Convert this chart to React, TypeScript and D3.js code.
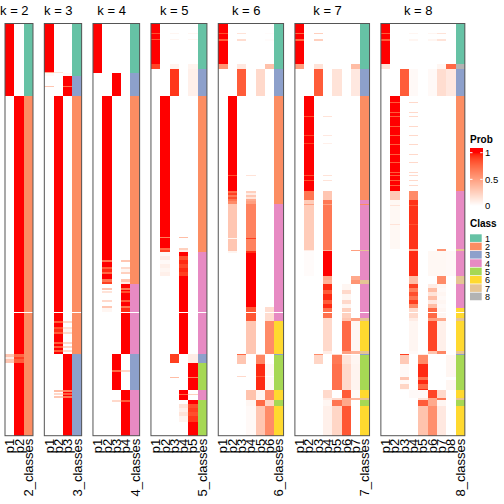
import React from "react";
import * as d3 from "d3";

const N = 412;
const KS = [2, 3, 4, 5, 6, 7, 8];
const CLASS_COLORS = ["#FFFFFF", "#66C2A5", "#FC8D62", "#8DA0CB", "#E78AC3", "#A6D854", "#FFD92F", "#E5C494", "#B3B3B3"];
const CLASS_LABELS = ["1", "2", "3", "4", "5", "6", "7", "8"];
const PROB_TICKS = [0, 0.5, 1];
const PROB_TICK_LABELS = ["0", "0.5", "1"];

// [startSample, endSample, class, p1..pk] — later rows overwrite earlier ones
const seg2 = [
  [0, 72, 1, 1, 0],
  [72, 412, 2, 0, 1],
  [330, 333, 2, 0.3, 0.75],
  [333, 335, 2, 0.1, 0.9],
  [335, 339, 2, 0.3, 0.8],
  [288, 289, 0, 0, 0],
];
const seg3 = [
  [0, 48, 1, 1, 0, 0],
  [48, 49, 1, 0.45, 0.15, 0],
  [49, 52, 1, 0.03, 0, 0.03],
  [52, 72, 3, 0, 0, 1],
  [62, 63, 3, 0.3, 0, 0.7],
  [72, 330, 2, 0, 1, 0],
  [297, 299, 2, 0, 0.8, 0.2],
  [303, 305, 2, 0, 0.85, 0.15],
  [305, 308, 2, 0, 0.95, 0.05],
  [308, 310, 2, 0, 0.8, 0.2],
  [318, 320, 2, 0, 0.8, 0.2],
  [322, 324, 2, 0, 0.8, 0.2],
  [326, 328, 2, 0, 0.8, 0.2],
  [330, 412, 3, 0, 0, 1],
  [366, 368, 3, 0, 0.35, 0.65],
  [369, 371, 3, 0, 0.2, 0.8],
  [372, 374, 3, 0, 0.3, 0.7],
  [288, 289, 0, 0, 0, 0],
];
const seg4 = [
  [0, 49, 1, 1, 0, 0, 0],
  [49, 72, 3, 0, 0, 1, 0],
  [72, 260, 2, 0, 1, 0, 0],
  [236, 238, 2, 0, 0.7, 0, 0.3],
  [243, 245, 2, 0, 0.8, 0, 0.2],
  [245, 248, 2, 0, 0.95, 0, 0.05],
  [248, 250, 2, 0, 0.75, 0, 0.25],
  [255, 258, 2, 0, 0.7, 0, 0.3],
  [258, 260, 2, 0, 0.9, 0, 0.1],
  [260, 330, 4, 0, 0, 0, 1],
  [264, 266, 4, 0, 0.3, 0, 0.7],
  [267, 269, 4, 0, 0.15, 0, 0.85],
  [276, 278, 4, 0, 0.2, 0, 0.8],
  [282, 284, 4, 0, 0.3, 0, 0.7],
  [284, 288, 4, 0, 0.05, 0, 0.95],
  [330, 366, 3, 0, 0, 1, 0],
  [346, 348, 3, 0, 0, 0.75, 0.2],
  [366, 412, 4, 0, 0, 0, 1],
  [376, 378, 4, 0, 0, 0.2, 0.8],
  [288, 289, 0, 0, 0, 0, 0],
];
const seg5 = [
  [0, 40, 1, 1, 0, 0, 0, 0],
  [9, 10, 1, 0.85, 0, 0.05, 0, 0.05],
  [15, 16, 1, 0.85, 0, 0.05, 0, 0.05],
  [40, 45, 1, 0.88, 0, 0.06, 0, 0.06],
  [45, 72, 3, 0, 0, 0.92, 0, 0.08],
  [72, 228, 2, 0, 1, 0, 0, 0],
  [213, 214, 2, 0, 0.65, 0, 0.35, 0],
  [224, 226, 2, 0, 0.75, 0, 0.25, 0],
  [226, 228, 2, 0, 0.9, 0, 0.1, 0],
  [228, 232, 4, 0, 0.04, 0, 1, 0],
  [232, 236, 4, 0, 0.1, 0, 0.85, 0],
  [236, 240, 4, 0, 0.03, 0, 0.95, 0],
  [240, 244, 4, 0, 0.08, 0, 0.88, 0],
  [244, 248, 4, 0, 0.05, 0, 0.95, 0],
  [248, 252, 4, 0, 0.08, 0, 0.9, 0],
  [252, 330, 4, 0, 0, 0, 1, 0],
  [330, 339, 3, 0, 0, 0.9, 0, 0.1],
  [339, 366, 5, 0, 0, 0, 0, 1],
  [353, 354, 5, 0, 0, 0.35, 0, 0.65],
  [366, 376, 4, 0, 0, 0, 1, 0],
  [370, 371, 4, 0, 0, 0, 0.75, 0.25],
  [376, 412, 5, 0, 0, 0, 0, 1],
  [380, 384, 5, 0, 0, 0, 0.15, 0.85],
  [384, 388, 5, 0, 0, 0, 0.08, 0.9],
  [388, 392, 5, 0, 0, 0, 0.15, 0.85],
  [392, 398, 5, 0, 0, 0, 0.06, 0.92],
  [288, 289, 0, 0, 0, 0, 0, 0],
];
const seg6 = [
  [0, 40, 1, 1, 0, 0, 0, 0, 0],
  [9, 10, 1, 0.85, 0, 0.15, 0, 0, 0.02],
  [15, 17, 1, 0.8, 0, 0.18, 0, 0, 0.02],
  [40, 45, 1, 0.55, 0, 0.12, 0, 0, 0.33],
  [45, 72, 3, 0, 0, 0.8, 0, 0.2, 0],
  [72, 167, 2, 0, 1, 0, 0, 0, 0],
  [151, 152, 2, 0, 0.85, 0, 0.15, 0, 0],
  [167, 169, 2, 0, 0.75, 0, 0.25, 0, 0],
  [169, 171, 2, 0, 0.9, 0, 0.1, 0, 0],
  [171, 173, 2, 0, 0.7, 0, 0.3, 0, 0],
  [173, 175, 2, 0, 0.85, 0, 0.15, 0, 0],
  [175, 177, 2, 0, 0.7, 0, 0.45, 0, 0],
  [177, 180, 2, 0, 0.6, 0, 0.5, 0, 0],
  [180, 227, 4, 0, 0.3, 0, 0.64, 0, 0],
  [214, 215, 4, 0, 0.05, 0, 0.9, 0, 0],
  [227, 229, 4, 0, 0.06, 0, 0.94, 0, 0],
  [229, 283, 4, 0, 0, 0, 1, 0, 0],
  [283, 297, 4, 0, 0, 0, 0.82, 0, 0.18],
  [297, 330, 6, 0, 0, 0, 0.3, 0, 0.6],
  [330, 331, 3, 0, 0, 0.75, 0, 0.2, 0],
  [331, 340, 5, 0, 0, 0.3, 0, 0.62, 0],
  [340, 366, 5, 0, 0, 0, 0, 0.95, 0.04],
  [352, 353, 5, 0, 0, 0.2, 0, 0.8, 0],
  [366, 376, 6, 0, 0, 0, 0.32, 0.05, 0.6],
  [376, 382, 5, 0, 0, 0, 0.05, 0.75, 0.22],
  [382, 412, 6, 0, 0, 0, 0.03, 0.3, 0.6],
  [288, 289, 0, 0, 0, 0, 0, 0, 0],
];
const seg7 = [
  [0, 40, 1, 1, 0, 0, 0, 0, 0, 0],
  [9, 10, 1, 0.75, 0, 0.25, 0, 0, 0, 0],
  [15, 17, 1, 0.75, 0, 0.25, 0, 0, 0, 0],
  [40, 45, 1, 0.5, 0, 0.15, 0, 0, 0, 0.35],
  [45, 72, 3, 0, 0, 0.8, 0, 0.15, 0, 0.12],
  [72, 167, 2, 0, 1, 0, 0, 0, 0, 0],
  [92, 93, 2, 0, 0.85, 0, 0.15, 0, 0, 0],
  [111, 112, 2, 0, 0.88, 0, 0.12, 0, 0, 0],
  [119, 120, 2, 0, 0.9, 0, 0.08, 0, 0, 0],
  [151, 152, 2, 0, 0.85, 0, 0.15, 0, 0, 0],
  [156, 157, 2, 0, 0.85, 0, 0.15, 0, 0, 0],
  [167, 176, 2, 0, 0.7, 0, 0.3, 0, 0, 0],
  [176, 226, 4, 0, 0.27, 0, 0.68, 0, 0, 0],
  [180, 181, 2, 0, 0.5, 0, 0.5, 0, 0, 0],
  [226, 227, 7, 0, 0.1, 0, 0.4, 0, 0, 0.5],
  [227, 252, 4, 0, 0.02, 0, 1, 0, 0, 0],
  [252, 256, 4, 0, 0, 0, 0.45, 0, 0, 0.45],
  [256, 260, 7, 0, 0, 0, 0.4, 0, 0, 0.55],
  [260, 266, 4, 0, 0, 0, 0.95, 0, 0.05, 0],
  [266, 270, 4, 0, 0, 0, 0.8, 0, 0.2, 0],
  [270, 276, 4, 0, 0, 0, 0.95, 0, 0.05, 0],
  [276, 280, 4, 0, 0, 0, 0.8, 0, 0.2, 0],
  [280, 284, 4, 0, 0, 0, 0.95, 0, 0.05, 0],
  [284, 294, 4, 0, 0, 0, 0.72, 0, 0.25, 0],
  [294, 297, 7, 0, 0, 0, 0.2, 0, 0.3, 0.5],
  [297, 327, 6, 0, 0, 0, 0.2, 0, 0.75, 0.05],
  [327, 330, 7, 0, 0, 0, 0.1, 0, 0.5, 0.4],
  [330, 331, 3, 0, 0, 0.6, 0, 0.2, 0, 0],
  [331, 340, 5, 0, 0, 0.22, 0, 0.68, 0.15, 0.05],
  [340, 366, 5, 0, 0, 0, 0, 0.72, 0.2, 0.06],
  [366, 374, 6, 0, 0, 0, 0.2, 0, 0.8, 0.03],
  [374, 376, 7, 0, 0, 0, 0.1, 0.2, 0.45, 0.4],
  [376, 382, 5, 0, 0, 0, 0.05, 0.7, 0.45, 0],
  [382, 412, 6, 0, 0, 0, 0.08, 0.22, 0.82, 0],
  [288, 289, 0, 0, 0, 0, 0, 0, 0, 0],
];
const seg8 = [
  [0, 40, 1, 1, 0, 0, 0, 0, 0, 0, 0],
  [9, 10, 1, 0.8, 0, 0, 0.05, 0, 0.05, 0.15, 0],
  [15, 17, 1, 0.8, 0, 0, 0.05, 0, 0.05, 0.15, 0],
  [40, 45, 8, 0.15, 0, 0, 0, 0, 0, 0.05, 0.75],
  [45, 72, 3, 0, 0, 0.8, 0.03, 0, 0.03, 0.18, 0.12],
  [72, 167, 2, 0, 1, 0, 0, 0, 0, 0, 0],
  [78, 79, 2, 0, 0.8, 0, 0.2, 0, 0, 0, 0],
  [88, 89, 2, 0, 0.8, 0, 0.2, 0, 0, 0, 0],
  [92, 93, 2, 0, 0.8, 0, 0.2, 0, 0, 0, 0],
  [102, 103, 2, 0, 0.8, 0, 0.2, 0, 0, 0, 0],
  [111, 112, 2, 0, 0.8, 0, 0.2, 0, 0, 0, 0],
  [120, 121, 2, 0, 0.8, 0, 0.2, 0, 0, 0, 0],
  [130, 131, 2, 0, 0.8, 0, 0.2, 0, 0, 0, 0],
  [138, 139, 2, 0, 0.8, 0, 0.2, 0, 0, 0, 0],
  [148, 149, 2, 0, 0.8, 0, 0.2, 0, 0, 0, 0],
  [151, 152, 2, 0, 0.8, 0, 0.2, 0, 0, 0, 0],
  [156, 157, 2, 0, 0.8, 0, 0.2, 0, 0, 0, 0],
  [161, 162, 2, 0, 0.8, 0, 0.2, 0, 0, 0, 0],
  [167, 176, 4, 0, 0.28, 0, 0.6, 0, 0, 0, 0],
  [176, 225, 4, 0, 0.04, 0, 0.93, 0, 0, 0, 0],
  [181, 182, 4, 0, 0.15, 0, 0.8, 0, 0, 0, 0],
  [200, 201, 4, 0, 0.15, 0, 0.85, 0, 0, 0, 0],
  [225, 227, 7, 0, 0, 0, 0.4, 0, 0, 0.55, 0],
  [227, 252, 4, 0, 0, 0, 0.95, 0, 0.04, 0.04, 0.03],
  [252, 260, 7, 0, 0, 0, 0.35, 0, 0, 0.6, 0],
  [260, 264, 4, 0, 0, 0, 0.9, 0, 0.1, 0.05, 0],
  [264, 268, 4, 0, 0, 0, 0.65, 0, 0.35, 0.03, 0],
  [268, 272, 4, 0, 0, 0, 0.85, 0, 0.15, 0.05, 0],
  [272, 276, 4, 0, 0, 0, 0.7, 0, 0.35, 0.03, 0],
  [276, 280, 4, 0, 0, 0, 0.9, 0, 0.12, 0.05, 0],
  [280, 284, 4, 0, 0, 0, 0.6, 0, 0.35, 0.03, 0],
  [284, 294, 6, 0, 0, 0, 0.2, 0, 0.75, 0.05, 0],
  [294, 297, 7, 0, 0, 0, 0.1, 0, 0.5, 0.45, 0],
  [297, 327, 6, 0, 0, 0, 0.05, 0, 0.88, 0.08, 0],
  [327, 330, 7, 0, 0, 0, 0.03, 0, 0.32, 0.62, 0],
  [330, 331, 3, 0, 0, 0.9, 0, 0.1, 0, 0, 0],
  [331, 340, 5, 0, 0, 0.28, 0, 0.6, 0, 0, 0.05],
  [340, 366, 5, 0, 0, 0.03, 0, 0.95, 0, 0, 0.05],
  [353, 356, 5, 0, 0, 0.3, 0, 0.7, 0, 0, 0],
  [360, 365, 5, 0, 0, 0.22, 0, 0.75, 0, 0, 0.05],
  [366, 374, 6, 0, 0, 0, 0.03, 0.03, 0.88, 0.2, 0],
  [374, 376, 7, 0, 0, 0, 0, 0.15, 0.45, 0.7, 0],
  [376, 382, 5, 0, 0, 0, 0, 0.8, 0.45, 0.05, 0],
  [382, 412, 6, 0, 0, 0, 0, 0.32, 0.58, 0.12, 0],
  [288, 289, 0, 0, 0, 0, 0, 0, 0, 0, 0],
];
const SEGMENTS = [seg2, seg3, seg4, seg5, seg6, seg7, seg8];

const FONT = "'Liberation Sans', Arial, Helvetica, sans-serif";

export default function App() {
  const top = 23.5, bottom = 435.7, left = 5, colW = 9.33, gap = 11.33;
  const y = d3.scaleLinear().domain([0, N]).range([top, bottom]);
  const probColor = d3.scaleLinear<string>().domain([0, 1]).range(["#FFFFFF", "#FF0000"]).interpolate(d3.interpolateLab);

  let cursor = left;
  const panels = KS.map((k, i) => {
    const cols = [...d3.range(1, k + 1).map((j) => `p${j}`), `${k}_classes`];
    const w = cols.length * colW;
    const xs = d3.scaleBand<string>().domain(cols).range([cursor, cursor + w]);
    const x0 = cursor;
    cursor += w + gap;
    return { k, cols, xs, x0, w, segs: SEGMENTS[i] };
  });

  // legend
  const lx = 470;
  const ly = d3.scaleLinear().domain([0, 1]).range([206, 152.7]);
  const barTop = 148, barBot = 211;
  const barRows = d3.range(barTop, barBot, 1);
  const classY = d3.scaleBand<string>().domain(CLASS_LABELS).range([234.3, 234.3 + 8 * 8.33]);

  return (
    <svg width={504} height={504} style={{ position: "absolute", left: 0, top: 0, background: "#fff" }} fontFamily={FONT}>
      <rect x={0} y={0} width={504} height={504} fill="#fff" />
      {panels.map((p) => {
        const bw = p.xs.bandwidth();
        const k = p.k;
        const titleX = (p.xs(p.cols[0])! + p.xs(p.cols[k - 1])! + bw) / 2;
        return (
          <g key={p.k}>
            <g shapeRendering="crispEdges">
              {p.segs.map((s, si) => {
                const y0 = y(s[0]);
                const h = y(s[1]) - y0;
                return (
                  <g key={si}>
                    {d3.range(k).map((j) => (
                      <rect key={j} x={p.xs(p.cols[j])} y={y0} width={bw} height={h} fill={probColor(s[3 + j])} />
                    ))}
                    <rect x={p.xs(p.cols[k])} y={y0} width={bw} height={h} fill={CLASS_COLORS[s[2]]} />
                  </g>
                );
              })}
            </g>
            <rect x={p.x0} y={top} width={p.w} height={bottom - top} fill="none" stroke="#555" strokeWidth={1} />
            <text x={titleX} y={15} textAnchor="middle" fontSize={13}>{`k = ${k}`}</text>
            {p.cols.map((c) => {
              const cx = p.xs(c)! + bw / 2;
              return (
                <text key={c} transform={`translate(${cx},${bottom + 3}) rotate(-90)`} textAnchor="end" dy="0.35em" fontSize={13}>
                  {c}
                </text>
              );
            })}
          </g>
        );
      })}
      <g>
        <text x={lx} y={143} fontSize={10} fontWeight="bold">Prob</text>
        <g shapeRendering="crispEdges">
          {barRows.map((r) => {
            const v = Math.max(0, Math.min(1, ly.invert(r + 0.5)));
            return <rect key={r} x={lx} y={r} width={12.7} height={1} fill={probColor(v)} />;
          })}
        </g>
        {PROB_TICKS.map((t, i) => (
          <g key={t}>
            <line x1={lx} x2={lx + 2.5} y1={ly(t)} y2={ly(t)} stroke="#fff" strokeWidth={1} />
            <line x1={lx + 10.2} x2={lx + 12.7} y1={ly(t)} y2={ly(t)} stroke="#fff" strokeWidth={1} />
            <text x={lx + 15} y={ly(t)} dy="0.35em" fontSize={9.5}>{PROB_TICK_LABELS[i]}</text>
          </g>
        ))}
        <text x={lx} y={227} fontSize={10} fontWeight="bold">Class</text>
        {CLASS_LABELS.map((c, i) => (
          <g key={c}>
            <rect x={lx} y={classY(c)} width={11.7} height={classY.bandwidth() - 0.7} fill={CLASS_COLORS[i + 1]} />
            <text x={lx + 15} y={classY(c)! + classY.bandwidth() / 2} dy="0.35em" fontSize={9}>{c}</text>
          </g>
        ))}
      </g>
    </svg>
  );
}
